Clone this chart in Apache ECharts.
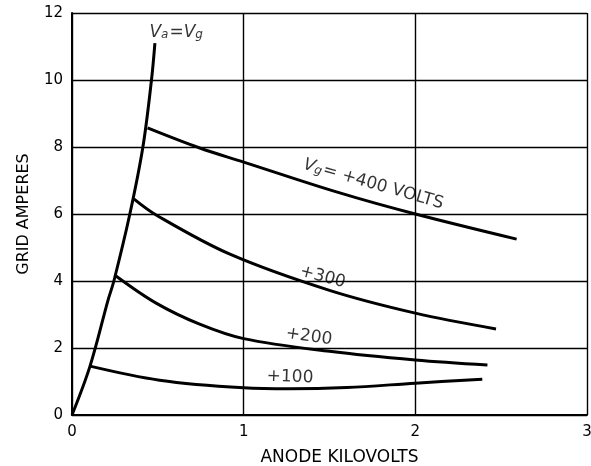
<!DOCTYPE html>
<html>
<head>
<meta charset="utf-8">
<script src="https://cdn.jsdelivr.net/npm/echarts@6/dist/echarts.min.js"></script>
<style>
html,body{margin:0;padding:0;background:#fff;}
#c{width:591px;height:466px;}
</style>
</head>
<body>
<div id="c"></div>
<script>
// Data (x: anode kilovolts, y: grid amperes)
const xTicks = [0, 1, 2, 3];
const yTicks = [0, 2, 4, 6, 8, 10, 12];
const curveVaVg = [[0,0],[0.105,1.46],[0.21,3.43],[0.244,4],[0.337,6],[0.413,8],[0.463,10],[0.483,11.1]];
const curve400 = [[0.44,8.57],[0.744,7.97],[1.0,7.55],[1.56,6.63],[2.0,6.0],[2.59,5.25]];
const curve300 = [[0.36,6.45],[0.49,5.97],[0.92,4.8],[1.5,3.72],[2.0,3.04],[2.47,2.57]];
const curve200 = [[0.256,4.15],[0.49,3.34],[0.74,2.72],[1.0,2.28],[1.5,1.9],[2.0,1.64],[2.42,1.49]];
const curve100 = [[0.105,1.46],[0.51,1.04],[1.0,0.81],[1.27,0.78],[1.6,0.82],[2.0,0.95],[2.39,1.07]];
const curveLabels = [
  {pos:[0.61,11.5], text:'{i|V}{s|a}{e|=}{i|V}{s|g}', rot:0},
  {pos:[1.76,6.96], text:'{i|V}{s|g}{e|= +400 VOLTS}', rot:-16},
  {pos:[1.46,4.12], text:'+300', rot:-15},
  {pos:[1.38,2.34], text:'+200', rot:-8},
  {pos:[1.27,1.13], text:'+100', rot:-2}
];

const FONT = 'DejaVu Sans';
const chart = echarts.init(document.getElementById('c'), null, {renderer:'canvas'});

function curve(data){
  return {type:'line', data:data, smooth:0.35, symbol:'none', silent:true,
    lineStyle:{color:'#000', width:3}, z:5};
}

const rich = {
  i:{fontFamily:FONT, fontStyle:'italic', fontSize:17, color:'#000', verticalAlign:'bottom', lineHeight:22},
  s:{fontFamily:FONT, fontStyle:'italic', fontSize:12, color:'#000', verticalAlign:'bottom', lineHeight:15, padding:[0,1,0,0]},
  e:{fontFamily:FONT, fontSize:17, color:'#000', verticalAlign:'bottom', lineHeight:22}
};

chart.setOption({
  animation:false,
  backgroundColor:'#fff',
  grid:{left:72, right:4, top:13, bottom:51, show:false, containLabel:false, outerBoundsMode:'none'},
  xAxis:{
    type:'value', min:0, max:3, interval:1,
    name:'ANODE KILOVOLTS', nameLocation:'middle', nameGap:34,
    nameTextStyle:{fontFamily:FONT, fontSize:17, color:'#000', padding:[0,0,0,20]},
    axisLine:{show:true, lineStyle:{color:'#000', width:2}},
    axisTick:{show:false},
    axisLabel:{fontFamily:FONT, fontSize:15, color:'#000', margin:10,
      formatter:function(v){return xTicks.indexOf(v)>=0 ? String(v) : '';}},
    splitLine:{show:true, lineStyle:{color:'#000', width:1.4}}
  },
  yAxis:{
    type:'value', min:0, max:12, interval:2,
    name:'GRID AMPERES', nameLocation:'middle', nameGap:40,
    nameTextStyle:{fontFamily:FONT, fontSize:16, color:'#000'},
    axisLine:{show:true, lineStyle:{color:'#000', width:2}},
    axisTick:{show:false},
    axisLabel:{fontFamily:FONT, fontSize:15, color:'#000', margin:9,
      formatter:function(v){return yTicks.indexOf(v)>=0 ? String(v) : '';}},
    splitLine:{show:true, lineStyle:{color:'#000', width:1.4}}
  },
  series:[
    curve(curveVaVg), curve(curve400), curve(curve300), curve(curve200), curve(curve100),
    {
      type:'scatter', symbolSize:0, silent:true, z:10,
      data: curveLabels.map(function(l){
        return {value:l.pos, label:{show:true, position:'inside', rotate:l.rot,
          formatter:l.text, fontFamily:FONT, fontSize:17, color:'#000', rich:rich}};
      })
    }
  ]
});
</script>
</body>
</html>
